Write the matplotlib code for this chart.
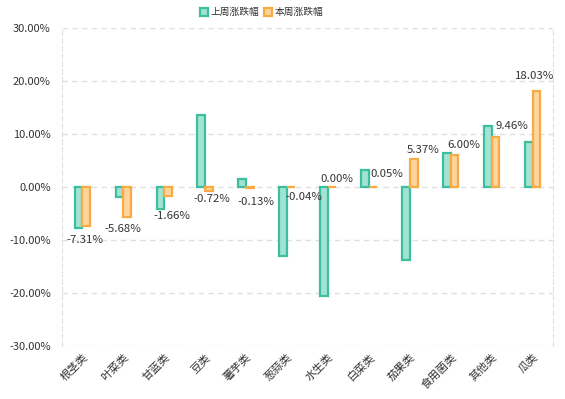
"""
weekly price change by vegetable category, last week vs this week
"""
import numpy as np
import matplotlib.pyplot as plt
from matplotlib.ticker import FuncFormatter

plt.rcParams["font.family"] = ["Noto Sans CJK SC", "DejaVu Sans"]

categories = ["根茎类", "叶菜类", "甘蓝类", "豆类", "薯芋类", "葱蒜类",
              "水生类", "白菜类", "茄果类", "食用菌类", "其他类", "瓜类"]
last_week = [-7.7, -1.8, -4.1, 13.6, 1.6, -13.0,
             -20.6, 3.3, -13.8, 6.5, 11.5, 8.4]
this_week = [-7.31, -5.68, -1.66, -0.72, -0.13, -0.04,
             0.00, 0.05, 5.37, 6.00, 9.46, 18.03]
series_names = ["上周涨跌幅", "本周涨跌幅"]
y_ticks = [-30, -20, -10, 0, 10, 20, 30]

# label nudges in pixels (dx, dy) relative to the end of the orange bar
label_offsets = [(-1, -14), (-4, -12), (4, -20), (3, -8), (6, -14), (13, -10),
                 (5, 8), (14, 13), (9, 9), (9, 10), (16, 11), (-2, 15)]

GREEN_EDGE, GREEN_FILL = "#3dbf9f", "#a3e3d3"
ORANGE_EDGE, ORANGE_FILL = "#f8aa45", "#fdd49c"
TEXT = "#333333"

fig = plt.figure(figsize=(5.65, 3.99), dpi=100)
ax = fig.add_axes([0.1097, 0.1328, 0.9788 - 0.1097, 0.9298 - 0.1328])

x = np.arange(len(categories))
w = 0.19
ax.bar(x - w / 2, last_week, width=w, color=GREEN_FILL, edgecolor=GREEN_EDGE,
       linewidth=1.6, label=series_names[0], zorder=3)
ax.bar(x + w / 2, this_week, width=w, color=ORANGE_FILL, edgecolor=ORANGE_EDGE,
       linewidth=1.6, label=series_names[1], zorder=3)

for i, v in enumerate(this_week):
    dx, dy = label_offsets[i]
    ax.annotate(f"{v:.2f}%", xy=(i + w / 2, v), xytext=(dx * 0.72, dy * 0.72),
                textcoords="offset points", ha="center", va="center",
                fontsize=8.2, color=TEXT, zorder=4)

ax.set_xlim(-0.5, len(categories) - 0.5)
ax.set_ylim(-30, 30)
ax.set_yticks(y_ticks)
ax.yaxis.set_major_formatter(FuncFormatter(lambda v, _: f"{v:.2f}%"))
ax.set_xticks(x)
ax.set_xticklabels(categories, rotation=45, ha="right", rotation_mode="anchor")
ax.tick_params(axis="both", length=0, labelsize=8, labelcolor=TEXT)
ax.tick_params(axis="y", pad=8)
ax.tick_params(axis="x", pad=4)

ax.grid(axis="y", color="#e0e0e0", linestyle=(0, (4, 3)), linewidth=1, zorder=0)
for side in ["left", "right"]:
    ax.spines[side].set_color("#e0e0e0")
    ax.spines[side].set_linestyle((0, (4, 3)))
for side in ["top", "bottom"]:
    ax.spines[side].set_visible(False)

fig.legend(loc="center", bbox_to_anchor=(0.463, 0.97), ncol=2, frameon=False,
           fontsize=7, handlelength=0.9, handleheight=0.9, handletextpad=0.25,
           columnspacing=0.4, labelcolor=TEXT, borderpad=0)

fig.savefig("out.png", dpi=100)
